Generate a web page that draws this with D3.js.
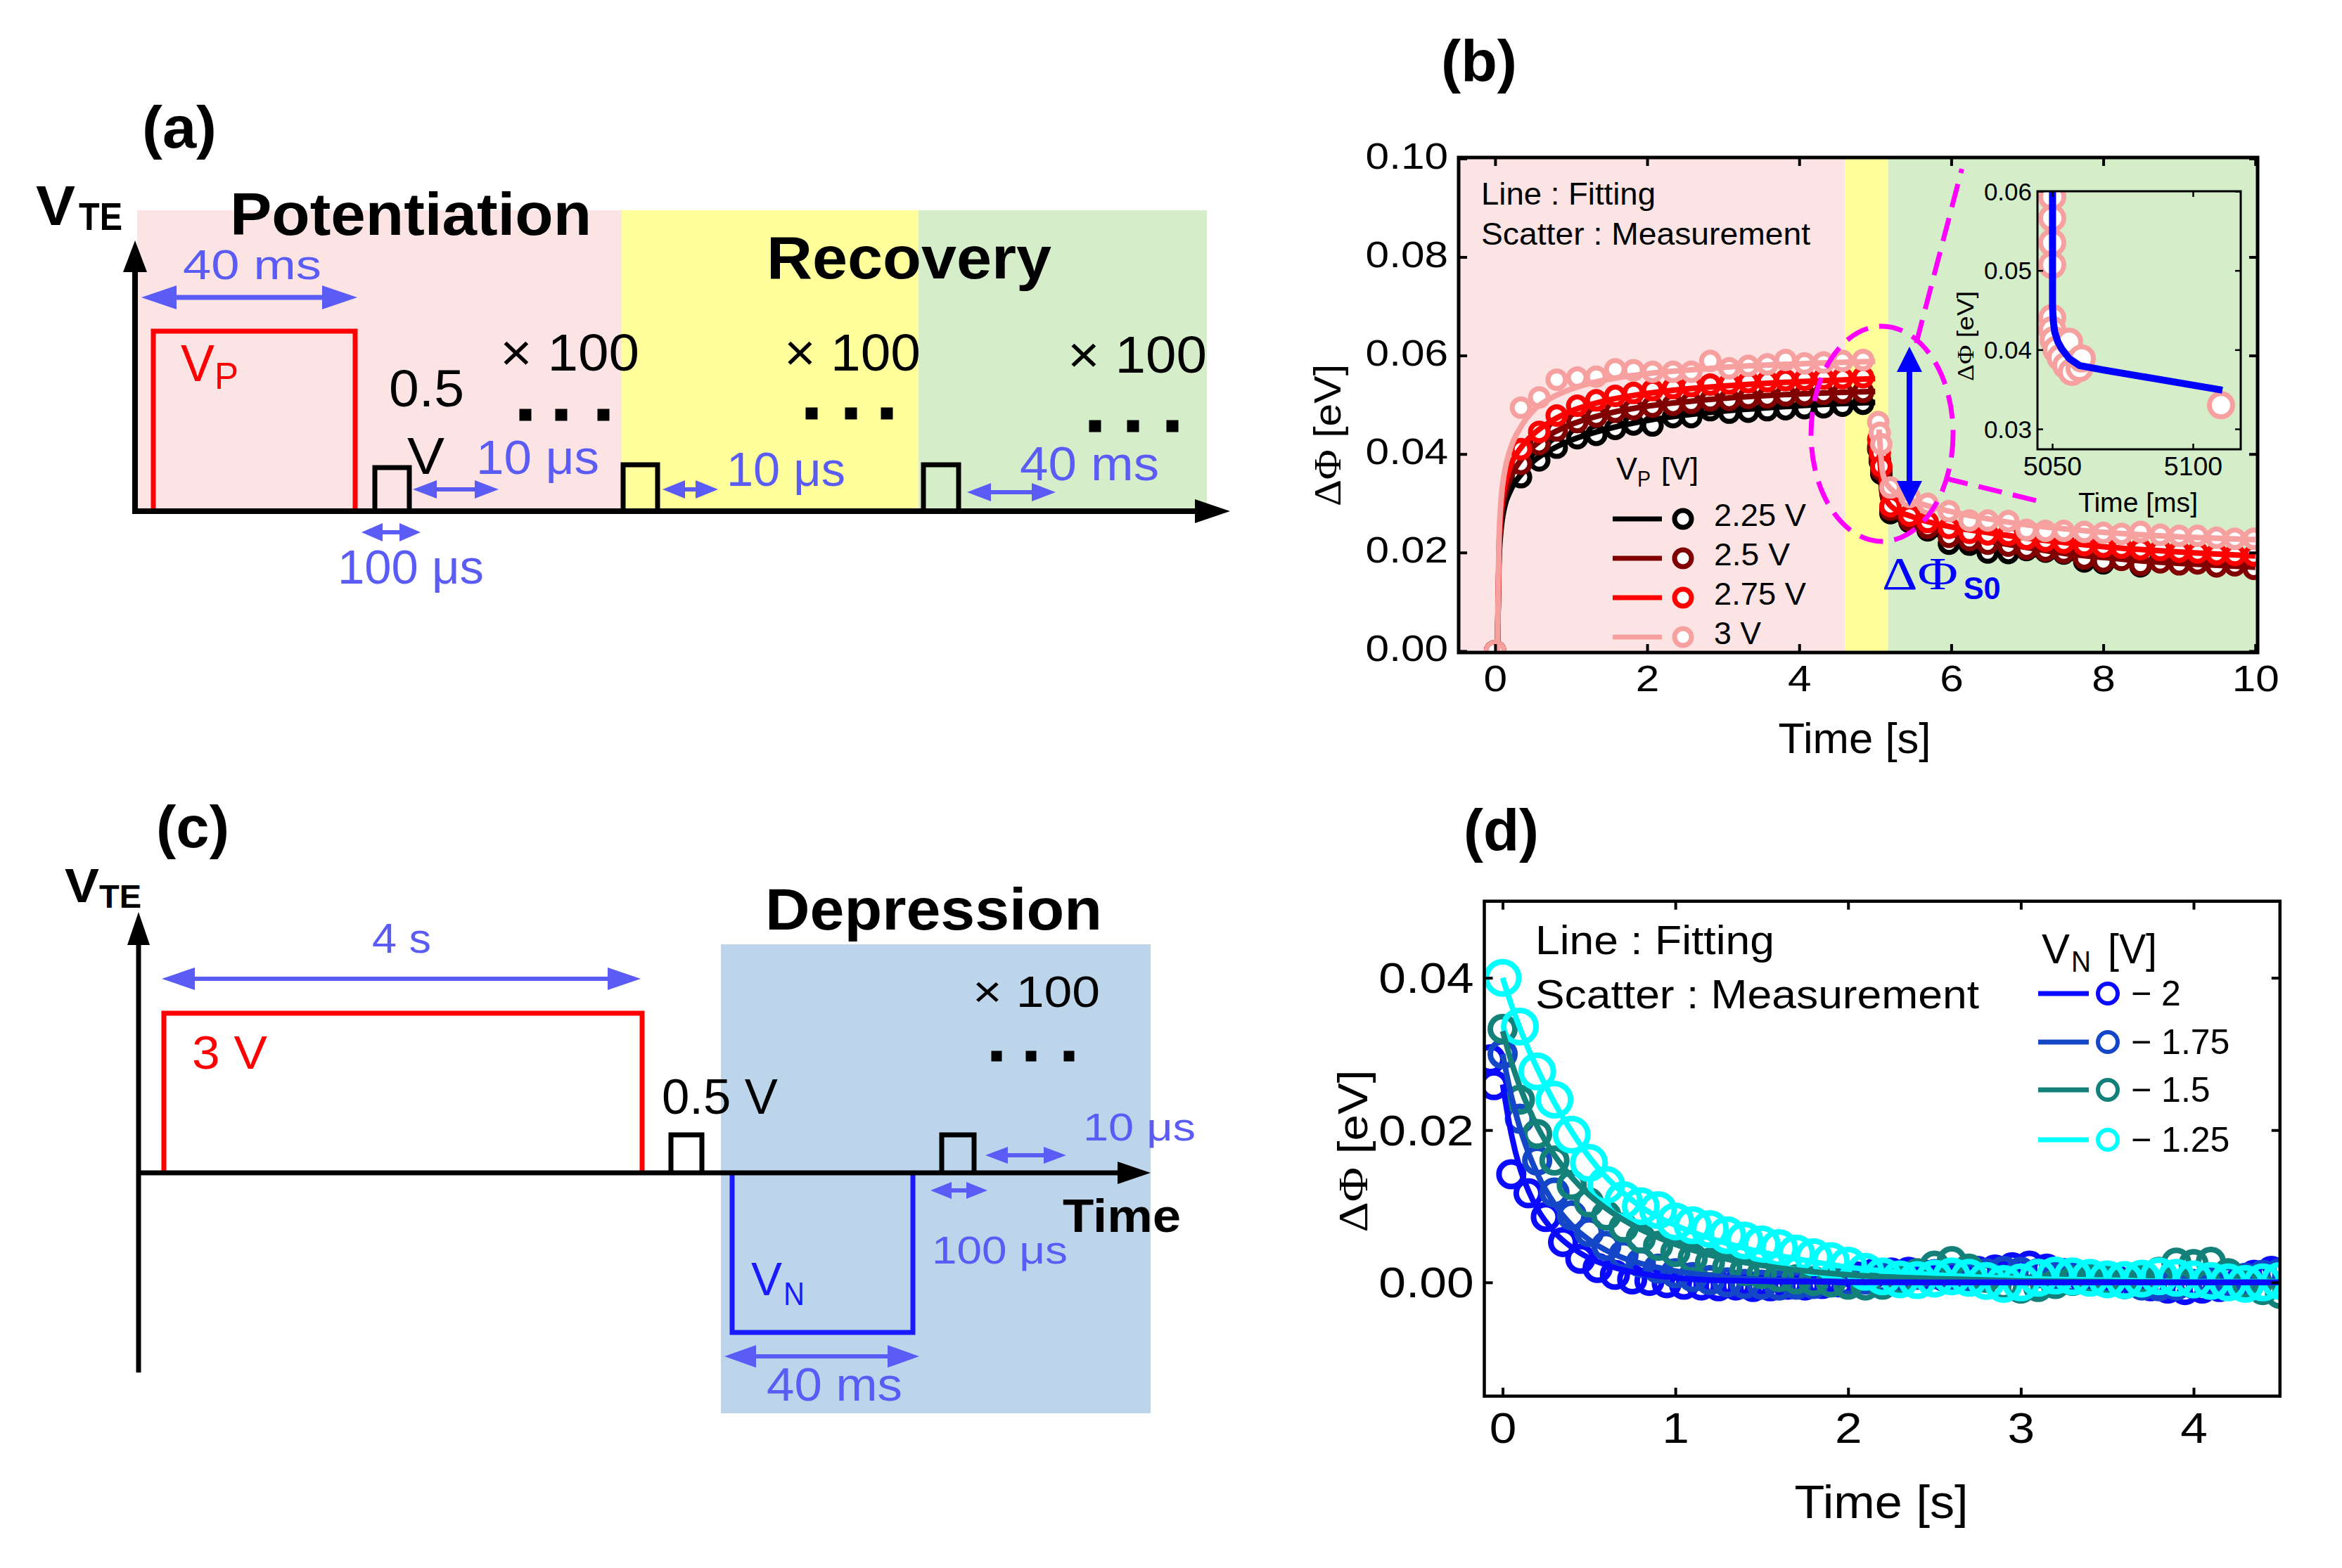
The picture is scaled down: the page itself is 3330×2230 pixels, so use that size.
<!DOCTYPE html>
<html><head><meta charset="utf-8">
<script src="https://cdn.jsdelivr.net/npm/d3@7"></script>
<style>html,body{margin:0;padding:0;background:#fff;} svg{display:block;}</style>
</head><body>
<svg id="fig" width="3330" height="2230"></svg>
<script>
// ================= DATA =================
// (a) schematic labels
const aPhaseLabels = ["Potentiation", "Recovery"];
const aRepeatLabel = "× 100";
const aIntervalLabels = ["10 μs", "10 μs", "40 ms"];
// (c) schematic labels
const cPhaseLabel = "Depression";
const cIntervalLabels = ["10 μs", "100 μs", "40 ms", "4 s"];

// (b) potentiation / recovery, V_P series
const bSeriesNames = ["2.25 V", "2.5 V", "2.75 V", "3 V"];
const bPhaseStart = [-0.48, 4.60, 5.17];
const bPhaseEnd = [4.60, 5.17, 10.03];
const bXTicks = [0, 2, 4, 6, 8, 10];
const bYTicks = [0, 0.02, 0.04, 0.06, 0.08, 0.10];
const bPotTime = [0, 0.34, 0.58, 0.81, 1.08, 1.33, 1.58, 1.82, 2.07, 2.34, 2.58, 2.83, 3.08, 3.33, 3.58, 3.82, 4.07, 4.32, 4.57, 4.84];
const bPot225 = [0, 0.0353, 0.0387, 0.0413, 0.0432, 0.0439, 0.0451, 0.0460, 0.0458, 0.0475, 0.0475, 0.0489, 0.0484, 0.0486, 0.0489, 0.0491, 0.0493, 0.0495, 0.0498, 0.0502];
const bPot250 = [0, 0.0380, 0.0420, 0.0448, 0.0465, 0.0476, 0.0486, 0.0491, 0.0496, 0.0500, 0.0504, 0.0509, 0.0510, 0.0514, 0.0515, 0.0519, 0.0520, 0.0522, 0.0524, 0.0526];
const bPot275 = [0, 0.0410, 0.0445, 0.0478, 0.0498, 0.0509, 0.0518, 0.0524, 0.0530, 0.0534, 0.0538, 0.0541, 0.0543, 0.0546, 0.0548, 0.0550, 0.0551, 0.0553, 0.0554, 0.0556];
const bPot300 = [0, 0.0494, 0.0515, 0.0551, 0.0555, 0.0557, 0.0572, 0.0570, 0.0567, 0.0567, 0.0567, 0.0589, 0.0574, 0.0579, 0.0582, 0.0591, 0.0584, 0.0586, 0.0589, 0.0591];
const bRecTime = [5.04, 5.06, 5.08, 5.20, 5.45, 5.69, 5.97, 6.24, 6.48, 6.75, 6.99, 7.24, 7.48, 7.75, 8.00, 8.24, 8.49, 8.75, 9.00, 9.24, 9.49, 9.73, 9.98];
const bRec225 = [0.0410, 0.0385, 0.0360, 0.0280, 0.0262, 0.0245, 0.0218, 0.0216, 0.0200, 0.0199, 0.0205, 0.0202, 0.0198, 0.0182, 0.0178, 0.0186, 0.0172, 0.0184, 0.0180, 0.0183, 0.0178, 0.0181, 0.0176];
const bRec250 = [0.0415, 0.0390, 0.0368, 0.0287, 0.0266, 0.0250, 0.0232, 0.0225, 0.0218, 0.0214, 0.0208, 0.0204, 0.0200, 0.0188, 0.0182, 0.0185, 0.0175, 0.0180, 0.0176, 0.0178, 0.0172, 0.0174, 0.0167];
const bRec275 = [0.0430, 0.0402, 0.0375, 0.0294, 0.0275, 0.0262, 0.0250, 0.0240, 0.0237, 0.0236, 0.0228, 0.0224, 0.0220, 0.0215, 0.0212, 0.0210, 0.0207, 0.0205, 0.0202, 0.0200, 0.0197, 0.0195, 0.0194];
const bRec300 = [0.0465, 0.0443, 0.0420, 0.0332, 0.0313, 0.0299, 0.0284, 0.0265, 0.0265, 0.0264, 0.0246, 0.0244, 0.0244, 0.0242, 0.0240, 0.0238, 0.0242, 0.0236, 0.0234, 0.0234, 0.0230, 0.0228, 0.0228];
const bFitPotT = [0.03, 0.05, 0.08, 0.12, 0.2, 0.35, 0.5, 0.75, 1.0, 1.5, 2.0, 2.5, 3.0, 3.5, 4.0, 4.5, 5.0];
const bFitPot225 = [0, 0.018, 0.025, 0.029, 0.0325, 0.036, 0.0385, 0.041, 0.0428, 0.0452, 0.0468, 0.0479, 0.0487, 0.0493, 0.0498, 0.0502, 0.0505];
const bFitPot250 = [0, 0.019, 0.027, 0.031, 0.035, 0.039, 0.0415, 0.0442, 0.046, 0.0483, 0.0497, 0.0506, 0.0513, 0.0518, 0.0522, 0.0525, 0.0527];
const bFitPot275 = [0, 0.020, 0.029, 0.033, 0.0375, 0.0415, 0.044, 0.0468, 0.0487, 0.051, 0.0523, 0.0532, 0.0538, 0.0543, 0.0547, 0.055, 0.0553];
const bFitPot300 = [0, 0.022, 0.031, 0.036, 0.041, 0.0458, 0.0488, 0.0515, 0.0532, 0.0552, 0.0563, 0.057, 0.0576, 0.058, 0.0583, 0.0586, 0.0588];
const bFitRecT = [5.05, 5.1, 5.2, 5.5, 6.0, 6.5, 7.0, 7.5, 8.0, 8.5, 9.0, 9.5, 10.0];
const bFitRec225 = [0.040, 0.031, 0.028, 0.0255, 0.0228, 0.021, 0.0198, 0.019, 0.0184, 0.018, 0.0178, 0.0177, 0.0176];
const bFitRec250 = [0.039, 0.031, 0.0282, 0.026, 0.0237, 0.0223, 0.021, 0.0198, 0.019, 0.0183, 0.0178, 0.0174, 0.017];
const bFitRec275 = [0.041, 0.033, 0.0295, 0.0272, 0.0252, 0.0240, 0.0229, 0.022, 0.0212, 0.0206, 0.0201, 0.0197, 0.0193];
const bFitRec300 = [0.045, 0.036, 0.033, 0.0305, 0.0283, 0.0268, 0.0256, 0.0248, 0.0241, 0.0236, 0.0232, 0.0229, 0.0226];
// (b) inset (3 V, ms scale)
const bInXTicks = [5050, 5100];
const bInYTicks = [0.03, 0.04, 0.05, 0.06];
const bInsetTime = [5050, 5050, 5050, 5050, 5050, 5050, 5050.5, 5051.5, 5053, 5055, 5056, 5057, 5059.7, 5060.5, 5110];
const bInsetVal = [0.0593, 0.0566, 0.0535, 0.0507, 0.0440, 0.0425, 0.0412, 0.0400, 0.0390, 0.0380, 0.0410, 0.0372, 0.0377, 0.0389, 0.0330];
const bInsetFitT = [5050.1, 5050.1, 5050.4, 5050.9, 5052, 5053.4, 5056, 5059.7, 5068.8, 5085.5, 5110.5];
const bInsetFitV = [0.0600, 0.0454, 0.0435, 0.0422, 0.0410, 0.0401, 0.0389, 0.0380, 0.0374, 0.0364, 0.0349];
// (b) annotation: ΔΦ_S0 arrow (time, top, bottom)
const bDropT = 5.45, bDropTop = 0.0618, bDropBottom = 0.0294;

// (d) depression, V_N series
const dSeriesNames = ["2", "1.75", "1.5", "1.25"];
const dXTicks = [0, 1, 2, 3, 4];
const dYTicks = [0, 0.02, 0.04];
const dTime = [0, 0.1, 0.2, 0.3, 0.4, 0.5, 0.6, 0.7, 0.8, 0.9, 1.0, 1.1, 1.2, 1.3, 1.4, 1.5, 1.6, 1.7, 1.8, 1.9, 2.0, 2.1, 2.2, 2.3, 2.4, 2.5, 2.6, 2.7, 2.8, 2.9, 3.0, 3.1, 3.2, 3.3, 3.4, 3.5, 3.6, 3.7, 3.8, 3.9, 4.0, 4.1, 4.2, 4.3, 4.4, 4.5];
const dBlueTime = [-0.07, -0.05, 0.05, 0.15, 0.25, 0.35, 0.45, 0.55, 0.65, 0.75, 0.85, 0.95, 1.05, 1.15, 1.25, 1.35, 1.45, 1.55, 1.65, 1.75, 1.85, 1.95, 2.05, 2.15, 2.25, 2.35, 2.45, 2.55, 2.65, 2.75, 2.85, 2.95, 3.05, 3.15, 3.25, 3.35, 3.45, 3.55, 3.65, 3.75, 3.85, 3.95, 4.05, 4.15, 4.25, 4.35, 4.45];
const dN200 = [0.0293, 0.0259, 0.0142, 0.0117, 0.0086, 0.0053, 0.0031, 0.0019, 0.0010, 0.0004, 0.0002, -0.0001, -0.0003, -0.0004, -0.0005, -0.0004, -0.0006, -0.0005, -0.0003, -0.0004, -0.0002, 0.0000, 0.0008, 0.0012, 0.0013, 0.0014, 0.0010, 0.0008, 0.0010, 0.0015, 0.0017, 0.0020, 0.0022, 0.0018, 0.0012, 0.0008, 0.0006, 0.0004, 0.0002, -0.0005, -0.0008, -0.0010, -0.0008, -0.0006, -0.0002, 0.0010, 0.0015];
const dN175 = [0.0300, 0.0215, 0.0160, 0.0118, 0.0088, 0.0066, 0.0048, 0.0036, 0.0026, 0.0018, 0.0012, 0.0007, 0.0003, 0.0000, -0.0002, -0.0003, -0.0004, -0.0003, -0.0002, 0.0000, 0.0002, 0.0004, 0.0006, 0.0008, 0.0010, 0.0011, 0.0010, 0.0008, 0.0012, 0.0015, 0.0014, 0.0012, 0.0008, 0.0005, 0.0002, 0.0000, -0.0002, -0.0004, -0.0005, -0.0004, -0.0002, 0.0000, 0.0003, 0.0006, 0.0010, 0.0012];
const dN150 = [0.0333, 0.0240, 0.0195, 0.0160, 0.0128, 0.0105, 0.0088, 0.0072, 0.0058, 0.0048, 0.0040, 0.0032, 0.0026, 0.0020, 0.0015, 0.0011, 0.0007, 0.0004, 0.0002, 0.0000, -0.0003, -0.0004, -0.0003, 0.0002, 0.0012, 0.0022, 0.0028, 0.0018, 0.0006, -0.0004, -0.0008, -0.0006, -0.0002, 0.0002, 0.0004, 0.0002, -0.0002, 0.0004, 0.0014, 0.0026, 0.0024, 0.0027, 0.0012, -0.0002, -0.0010, -0.0015];
const dN125 = [0.0400, 0.0336, 0.0277, 0.0240, 0.0194, 0.0157, 0.0128, 0.0108, 0.0100, 0.0095, 0.0080, 0.0075, 0.0070, 0.0062, 0.0055, 0.0050, 0.0045, 0.0038, 0.0033, 0.0028, 0.0022, 0.0014, 0.0008, 0.0004, 0.0003, 0.0005, 0.0008, 0.0006, 0.0002, -0.0002, 0.0000, 0.0006, 0.0009, 0.0008, 0.0006, 0.0004, 0.0003, 0.0005, 0.0008, 0.0006, 0.0004, 0.0002, 0.0000, -0.0002, 0.0000, 0.0002];
const dFitT = [0, 0.05, 0.1, 0.15, 0.2, 0.3, 0.4, 0.5, 0.6, 0.7, 0.85, 1.0, 1.2, 1.4, 1.6, 1.8, 2.0, 2.5, 3.0, 3.5, 4.0, 4.5];
const dFit200 = [0.026, 0.0195, 0.0150, 0.0120, 0.0097, 0.0066, 0.0046, 0.0032, 0.0023, 0.0016, 0.0010, 0.0006, 0.0003, 0.0002, 0.0001, 0.0001, 0, 0, 0, 0, 0, 0];
const dFit175 = [0.030, 0.0245, 0.0203, 0.0170, 0.0143, 0.0103, 0.0075, 0.0056, 0.0042, 0.0032, 0.0022, 0.0015, 0.0009, 0.0005, 0.0003, 0.0002, 0.0001, 0, 0, 0, 0, 0];
const dFit150 = [0.0330, 0.0290, 0.0257, 0.0229, 0.0205, 0.0167, 0.0138, 0.0115, 0.0097, 0.0082, 0.0064, 0.0050, 0.0036, 0.0026, 0.0019, 0.0014, 0.0010, 0.0005, 0.0002, 0.0001, 0, 0];
const dFit125 = [0.0400, 0.0365, 0.0334, 0.0306, 0.0281, 0.0236, 0.0198, 0.0165, 0.0138, 0.0117, 0.0092, 0.0075, 0.0058, 0.0045, 0.0035, 0.0027, 0.0020, 0.0010, 0.0005, 0.0003, 0.0001, 0.0001];

// ================= STYLE =================
const SANS = "'Liberation Sans', Arial, sans-serif";
const SERIF = "'Liberation Serif', 'Times New Roman', serif";
const ANNO = "#5b5bf5";
const PINK_BG = "#fde4e4", YEL_BG = "#ffff9c", GRN_BG = "#d5eec9", BLUE_BG = "#bdd5eb";
const bColors = ["#000000", "#800000", "#ff0000", "#f7a0a0"];
const dColors = ["#0a0aff", "#1446c8", "#138079", "#00ffff"];

const svg = d3.select('#fig');
svg.append('rect').attr('width', 3330).attr('height', 2230).attr('fill', '#fff');
const defs = svg.append('defs');

function txt(g, x, y, s, fs, o = {}) {
  const t = g.append('text').attr('x', x).attr('y', y)
    .attr('font-family', o.ff || SANS).attr('font-size', fs)
    .attr('font-weight', o.fw || 'normal').attr('fill', o.fill || '#000')
    .attr('text-anchor', o.anchor || 'start').text(s);
  if (o.tl) t.attr('textLength', o.tl).attr('lengthAdjust', 'spacingAndGlyphs');
  return t;
}
function stretch(sel, f) {
  sel.each(function () {
    const w = this.getComputedTextLength();
    d3.select(this).attr('textLength', w * f).attr('lengthAdjust', 'spacingAndGlyphs');
  });
}
function hArrow(g, x1, x2, y, color, lw, hl, hw) {
  g.append('line').attr('x1', x1 + hl * 0.8).attr('x2', x2 - hl * 0.8).attr('y1', y).attr('y2', y)
    .attr('stroke', color).attr('stroke-width', lw);
  g.append('path').attr('d', `M${x1},${y}L${x1 + hl},${y - hw}L${x1 + hl},${y + hw}Z`).attr('fill', color);
  g.append('path').attr('d', `M${x2},${y}L${x2 - hl},${y - hw}L${x2 - hl},${y + hw}Z`).attr('fill', color);
}
function vArrow(g, x, y1, y2, color, lw, hl, hw) {
  g.append('line').attr('x1', x).attr('x2', x).attr('y1', y1 + hl * 0.8).attr('y2', y2 - hl * 0.8)
    .attr('stroke', color).attr('stroke-width', lw);
  g.append('path').attr('d', `M${x},${y1}L${x - hw},${y1 + hl}L${x + hw},${y1 + hl}Z`).attr('fill', color);
  g.append('path').attr('d', `M${x},${y2}L${x - hw},${y2 - hl}L${x + hw},${y2 - hl}Z`).attr('fill', color);
}
function pulse(g, xs, ys, x1, x2, h, color, lw) {
  g.append('path').attr('d', `M${xs(x1)},${ys(0)}V${ys(h)}H${xs(x2)}V${ys(0)}`)
    .attr('fill', 'none').attr('stroke', color).attr('stroke-width', lw).attr('stroke-linejoin', 'miter');
}

// ================= PANEL (a) =================
{
  const g = svg.append('g');
  const xa = d3.scaleLinear().domain([0, 1]).range([192, 193]);
  const ya = d3.scaleLinear().domain([0, 1]).range([727, 726]);
  const bgS = [3, 692, 1114], bgE = [692, 1114, 1524], bgC = [PINK_BG, YEL_BG, GRN_BG];
  bgS.forEach((s, i) => g.append('rect').attr('x', xa(s)).attr('y', ya(428)).attr('width', xa(bgE[i]) - xa(s))
    .attr('height', ya(0) - ya(428)).attr('fill', bgC[i]));
  pulse(g, xa, ya, 26, 313, 256, '#ff0000', 7);
  [[341, 390, 62], [694, 743, 66], [1121, 1171, 66]].forEach(p => pulse(g, xa, ya, p[0], p[1], p[2], '#000', 7));
  g.append('line').attr('x1', xa(0)).attr('x2', xa(0)).attr('y1', ya(-4)).attr('y2', ya(350)).attr('stroke', '#000').attr('stroke-width', 8);
  g.append('path').attr('d', `M${xa(0)},${ya(385)}L${xa(-17)},${ya(340)}L${xa(17)},${ya(340)}Z`).attr('fill', '#000');
  g.append('line').attr('x1', xa(-4)).attr('x2', xa(1515)).attr('y1', ya(0)).attr('y2', ya(0)).attr('stroke', '#000').attr('stroke-width', 8);
  g.append('path').attr('d', `M${xa(1557)},${ya(0)}L${xa(1507)},${ya(17)}L${xa(1507)},${ya(-17)}Z`).attr('fill', '#000');
  hArrow(g, xa(9), xa(316), ya(304), ANNO, 7, 50, 17);
  hArrow(g, xa(395), xa(517), ya(31), ANNO, 6, 34, 13);
  hArrow(g, xa(322), xa(406), ya(-30), ANNO, 6, 30, 13);
  hArrow(g, xa(750), xa(829), ya(31), ANNO, 6, 32, 13);
  hArrow(g, xa(1183), xa(1309), ya(27), ANNO, 6, 34, 13);
  [[555, 137], [606, 137], [666, 137], [962, 139], [1018, 139], [1069, 139], [1365, 121], [1419, 121], [1475, 121]]
    .forEach(d => g.append('rect').attr('x', xa(d[0]) - 8.5).attr('y', ya(d[1]) - 8.5).attr('width', 17).attr('height', 17).attr('fill', '#000'));
  txt(g, xa(10), ya(517), "(a)", 84, { fw: 'bold', tl: 106 });
  txt(g, xa(-141), ya(407), "V", 80, { fw: 'bold', tl: 56 });
  txt(g, xa(-80), ya(400), "TE", 56, { fw: 'bold', tl: 62 });
  txt(g, xa(135), ya(393), aPhaseLabels[0], 85, { fw: 'bold', tl: 514 });
  txt(g, xa(898), ya(331), aPhaseLabels[1], 85, { fw: 'bold', tl: 405 });
  txt(g, xa(68), ya(330), "40 ms", 60, { fill: ANNO, tl: 197 });
  txt(g, xa(65), ya(185), "V", 75, { fill: '#ff0000', tl: 48 });
  txt(g, xa(113), ya(174), "P", 53, { fill: '#ff0000', tl: 34 });
  txt(g, xa(361), ya(149), "0.5", 74, { tl: 107 });
  txt(g, xa(387), ya(53), "V", 74, { tl: 53 });
  txt(g, xa(519), ya(200), aRepeatLabel, 74, { tl: 198 });
  txt(g, xa(923), ya(200), aRepeatLabel, 74, { tl: 194 });
  txt(g, xa(1326), ya(197), aRepeatLabel, 74, { tl: 198 });
  txt(g, xa(485), ya(53), aIntervalLabels[0], 68, { fill: ANNO, tl: 175 });
  txt(g, xa(841), ya(36), aIntervalLabels[1], 68, { fill: ANNO, tl: 169 });
  txt(g, xa(1258), ya(44), aIntervalLabels[2], 68, { fill: ANNO, tl: 198 });
  txt(g, xa(288), ya(-103), "100 μs", 68, { fill: ANNO, tl: 208 });
}

// ================= PANEL (c) =================
{
  const g = svg.append('g');
  const xc = d3.scaleLinear().domain([0, 1]).range([197, 198]);
  const yc = d3.scaleLinear().domain([0, 1]).range([1668, 1667]);
  g.append('rect').attr('x', xc(828)).attr('y', yc(325)).attr('width', xc(1439) - xc(828))
    .attr('height', yc(-342) - yc(325)).attr('fill', BLUE_BG);
  pulse(g, xc, yc, 36, 716, 227, '#ff0000', 7);
  pulse(g, xc, yc, 757, 801, 54, '#000', 7);
  pulse(g, xc, yc, 1142, 1188, 54, '#000', 7);
  pulse(g, xc, yc, 844, 1101, -227, '#1a1aff', 7);
  g.append('line').attr('x1', xc(0)).attr('x2', xc(0)).attr('y1', yc(-284)).attr('y2', yc(340)).attr('stroke', '#000').attr('stroke-width', 7);
  g.append('path').attr('d', `M${xc(0)},${yc(371)}L${xc(-16)},${yc(324)}L${xc(16)},${yc(324)}Z`).attr('fill', '#000');
  g.append('line').attr('x1', xc(0)).attr('x2', xc(1400)).attr('y1', yc(0)).attr('y2', yc(0)).attr('stroke', '#000').attr('stroke-width', 7);
  g.append('path').attr('d', `M${xc(1439)},${yc(0)}L${xc(1392)},${yc(16)}L${xc(1392)},${yc(-16)}Z`).attr('fill', '#000');
  hArrow(g, xc(33), xc(714), yc(276), ANNO, 6, 47, 16);
  hArrow(g, xc(833), xc(1110), yc(-261), ANNO, 6, 45, 16);
  hArrow(g, xc(1204), xc(1319), yc(25), ANNO, 6, 32, 12);
  hArrow(g, xc(1126), xc(1207), yc(-25), ANNO, 6, 30, 12);
  [[1220, 166], [1269, 166], [1323, 166]].forEach(d => g.append('rect').attr('x', xc(d[0]) - 7.5).attr('y', yc(d[1]) - 7.5)
    .attr('width', 15).attr('height', 15).attr('fill', '#000'));
  txt(g, xc(25), yc(463), "(c)", 84, { fw: 'bold', tl: 104 });
  txt(g, xc(-105), yc(385), "V", 68, { fw: 'bold', tl: 49 });
  txt(g, xc(-56), yc(377), "TE", 46, { fw: 'bold', tl: 60 });
  txt(g, xc(891), yc(346), cPhaseLabel, 83, { fw: 'bold', tl: 479 });
  txt(g, xc(332), yc(313), cIntervalLabels[3], 60, { fill: ANNO, tl: 84 });
  txt(g, xc(76), yc(148), "3 V", 67, { fill: '#ff0000', tl: 107 });
  txt(g, xc(744), yc(84), "0.5 V", 70, { tl: 165 });
  txt(g, xc(871), yc(-174), "V", 67, { fill: '#1a1aff', tl: 44 });
  txt(g, xc(917), yc(-188), "N", 47, { fill: '#1a1aff', tl: 30 });
  txt(g, xc(893), yc(-324), cIntervalLabels[2], 67, { fill: ANNO, tl: 193 });
  txt(g, xc(1186), yc(236), "× 100", 63, { tl: 181 });
  txt(g, xc(1343), yc(46), cIntervalLabels[0], 56, { fill: ANNO, tl: 160 });
  txt(g, xc(1128), yc(-129), cIntervalLabels[1], 56, { fill: ANNO, tl: 193 });
  txt(g, xc(1314), yc(-84), "Time", 67, { fw: 'bold', tl: 168 });
}

// ================= PANEL (b) =================
{
  const g = svg.append('g');
  const L = 2074, R = 3210, Tp = 224, B = 928;
  const xB = d3.scaleLinear().domain([-0.48, 10.03]).range([L, R]);
  const yB = d3.scaleLinear().domain([-0.0003, 0.1002]).range([B, Tp]);
  defs.append('clipPath').attr('id', 'clipB').append('rect').attr('x', L).attr('y', Tp).attr('width', R - L).attr('height', B - Tp);
  const bgC = [PINK_BG, YEL_BG, GRN_BG];
  bPhaseStart.forEach((s, i) => g.append('rect').attr('x', xB(s)).attr('y', Tp).attr('width', xB(bPhaseEnd[i]) - xB(s))
    .attr('height', B - Tp).attr('fill', bgC[i]));

  const pot = [bPot225, bPot250, bPot275, bPot300];
  const rec = [bRec225, bRec250, bRec275, bRec300];
  const fpot = [bFitPot225, bFitPot250, bFitPot275, bFitPot300];
  const frec = [bFitRec225, bFitRec250, bFitRec275, bFitRec300];
  const line = d3.line().x(d => xB(d[0])).y(d => yB(d[1])).curve(d3.curveMonotoneX);
  const plot = g.append('g').attr('clip-path', 'url(#clipB)');
  for (let i = 0; i < 4; i++) {
    const pts = bPotTime.map((t, j) => [t, pot[i][j]]).concat(bRecTime.map((t, j) => [t, rec[i][j]]));
    plot.append('g').selectAll('circle').data(pts).join('circle')
      .attr('cx', d => xB(d[0])).attr('cy', d => yB(d[1])).attr('r', 12.5)
      .attr('fill', '#fff').attr('stroke', bColors[i]).attr('stroke-width', 7);
    plot.append('path').attr('d', line(bFitPotT.map((t, j) => [t, fpot[i][j]]))).attr('fill', 'none')
      .attr('stroke', bColors[i]).attr('stroke-width', 8);
    plot.append('path').attr('d', line(bFitRecT.map((t, j) => [t, frec[i][j]]))).attr('fill', 'none')
      .attr('stroke', bColors[i]).attr('stroke-width', 8);
  }
  g.append('rect').attr('x', L).attr('y', Tp).attr('width', R - L).attr('height', B - Tp).attr('fill', 'none').attr('stroke', '#000').attr('stroke-width', 5);
  const styleAx = (sel, fs) => {
    sel.select('.domain').remove();
    sel.selectAll('line').attr('stroke', '#000').attr('stroke-width', 4);
    sel.selectAll('text').attr('font-size', fs).attr('font-family', SANS).attr('fill', '#000');
  };
  const gx = g.append('g').attr('transform', `translate(0,${B})`)
    .call(d3.axisBottom(xB).tickValues(bXTicks).tickSize(-12).tickFormat(d3.format('d')));
  styleAx(gx, 52); gx.selectAll('text').attr('dy', null).attr('y', 55); stretch(gx.selectAll('text'), 1.16);
  const gy = g.append('g').attr('transform', `translate(${L},0)`)
    .call(d3.axisLeft(yB).tickValues(bYTicks).tickSize(-12).tickFormat(d3.format('.2f')));
  styleAx(gy, 52); gy.selectAll('text').attr('dy', null).attr('x', -15).attr('y', 14); stretch(gy.selectAll('text'), 1.16);
  const gt = g.append('g').attr('transform', `translate(0,${Tp})`).call(d3.axisTop(xB).tickValues(bXTicks).tickSize(-12).tickFormat(''));
  styleAx(gt, 10);
  const gr = g.append('g').attr('transform', `translate(${R},0)`).call(d3.axisRight(yB).tickValues(bYTicks).tickSize(-12).tickFormat(''));
  styleAx(gr, 10);

  txt(g, 2049, 116, "(b)", 84, { fw: 'bold', tl: 108 });
  txt(g, 2637, 1071, "Time [s]", 61, { anchor: 'middle', tl: 217 });
  const yl = g.append('text').attr('transform', 'translate(1906,619) rotate(-90)').attr('text-anchor', 'middle')
    .attr('font-size', 54).attr('font-family', SANS).attr('textLength', 202).attr('lengthAdjust', 'spacingAndGlyphs');
  yl.append('tspan').attr('font-family', SERIF).text('ΔΦ');
  yl.append('tspan').text(' [eV]');
  txt(g, 2106, 291, "Line : Fitting", 45, { tl: 248 });
  txt(g, 2106, 348, "Scatter : Measurement", 45, { tl: 468 });

  txt(g, 2298, 682, "V", 45, { tl: 30 });
  txt(g, 2328, 692, "P", 32, { tl: 19 });
  txt(g, 2362, 682, "[V]", 45, { tl: 53 });
  const legY = [738, 794, 850, 906], legW = [131, 108, 131, 67];
  bSeriesNames.forEach((n, i) => {
    g.append('line').attr('x1', 2293).attr('x2', 2363).attr('y1', legY[i]).attr('y2', legY[i]).attr('stroke', bColors[i]).attr('stroke-width', 7);
    g.append('circle').attr('cx', 2393).attr('cy', legY[i]).attr('r', 12).attr('fill', '#fff').attr('stroke', bColors[i]).attr('stroke-width', 7);
    txt(g, 2437, legY[i] + 10, n, 44, { tl: legW[i] });
  });

  const mag = '#ff00ff';
  g.append('ellipse').attr('cx', xB(5.09)).attr('cy', yB(0.0441)).attr('rx', 101).attr('ry', 153)
    .attr('fill', 'none').attr('stroke', mag).attr('stroke-width', 7).attr('stroke-dasharray', '34,16');
  g.append('line').attr('x1', xB(5.54)).attr('y1', yB(0.0625)).attr('x2', xB(6.14)).attr('y2', yB(0.0979))
    .attr('stroke', mag).attr('stroke-width', 7).attr('stroke-dasharray', '34,16');
  g.append('line').attr('x1', xB(5.91)).attr('y1', yB(0.0351)).attr('x2', xB(7.13)).attr('y2', yB(0.0305))
    .attr('stroke', mag).attr('stroke-width', 7).attr('stroke-dasharray', '34,16');
  vArrow(g, xB(bDropT), yB(bDropTop), yB(bDropBottom), '#0000ff', 8, 36, 18);
  txt(g, xB(5.09), yB(0.01255), "ΔΦ", 66, { ff: SERIF, fill: '#0000ff', tl: 108 });
  txt(g, xB(6.16), yB(0.01056), "S0", 44, { fw: 'bold', fill: '#0000ff', tl: 53 });

  const iL = 2897, iR = 3186, iT = 272, iB = 639;
  const xI = d3.scaleLinear().domain([5044.75, 5117]).range([iL, iR]);
  const yI = d3.scaleLinear().domain([0.02743, 0.06]).range([iB, iT]);
  defs.append('clipPath').attr('id', 'clipI').append('rect').attr('x', iL).attr('y', iT).attr('width', iR - iL).attr('height', iB - iT);
  const ig = g.append('g').attr('clip-path', 'url(#clipI)');
  ig.selectAll('circle').data(bInsetTime.map((t, j) => [t, bInsetVal[j]])).join('circle')
    .attr('cx', d => xI(d[0])).attr('cy', d => yI(d[1])).attr('r', 16.5)
    .attr('fill', '#fff').attr('stroke', bColors[3]).attr('stroke-width', 7);
  ig.append('path').attr('d', d3.line().x(d => xI(d[0])).y(d => yI(d[1])).curve(d3.curveLinear)(bInsetFitT.map((t, j) => [t, bInsetFitV[j]])))
    .attr('fill', 'none').attr('stroke', '#0000ff').attr('stroke-width', 10).attr('stroke-linejoin', 'round');
  g.append('rect').attr('x', iL).attr('y', iT).attr('width', iR - iL).attr('height', iB - iT).attr('fill', 'none').attr('stroke', '#000').attr('stroke-width', 3);
  const ix = g.append('g').attr('transform', `translate(0,${iB})`).call(d3.axisBottom(xI).tickValues(bInXTicks).tickSize(-8).tickFormat(d3.format('d')));
  styleAx(ix, 36); ix.selectAll('line').attr('stroke-width', 2.5); ix.selectAll('text').attr('dy', null).attr('y', 37); stretch(ix.selectAll('text'), 1.04);
  const iy = g.append('g').attr('transform', `translate(${iL},0)`).call(d3.axisLeft(yI).tickValues(bInYTicks).tickSize(-8).tickFormat(d3.format('.2f')));
  styleAx(iy, 35); iy.selectAll('line').attr('stroke-width', 2.5); iy.selectAll('text').attr('dy', null).attr('x', -8).attr('y', 12);
  const it = g.append('g').attr('transform', `translate(0,${iT})`).call(d3.axisTop(xI).tickValues(bInXTicks).tickSize(-8).tickFormat(''));
  styleAx(it, 10); it.selectAll('line').attr('stroke-width', 2.5);
  const ir = g.append('g').attr('transform', `translate(${iR},0)`).call(d3.axisRight(yI).tickValues(bInYTicks).tickSize(-8).tickFormat(''));
  styleAx(ir, 10); ir.selectAll('line').attr('stroke-width', 2.5);
  txt(g, 3040, 728, "Time [ms]", 38, { anchor: 'middle', tl: 170 });
  const iyl = g.append('text').attr('transform', 'translate(2806,478) rotate(-90)').attr('text-anchor', 'middle')
    .attr('font-size', 33).attr('font-family', SANS).attr('textLength', 128).attr('lengthAdjust', 'spacingAndGlyphs');
  iyl.append('tspan').attr('font-family', SERIF).text('ΔΦ');
  iyl.append('tspan').text(' [eV]');
}

// ================= PANEL (d) =================
{
  const g = svg.append('g');
  const L = 2110.5, R = 3241.8, Tp = 1281.7, B = 1985.6;
  const xD = d3.scaleLinear().domain([-0.106, 4.5]).range([L, R]);
  const yD = d3.scaleLinear().domain([-0.01494, 0.05006]).range([B, Tp]);
  defs.append('clipPath').attr('id', 'clipD').append('rect').attr('x', L).attr('y', Tp).attr('width', R - L).attr('height', B - Tp);
  const plot = g.append('g').attr('clip-path', 'url(#clipD)');
  const sets = [
    { t: dBlueTime, v: dN200, r: 17.5 },
    { t: dTime, v: dN175, r: 17.5 },
    { t: dTime, v: dN150, r: 17.5 },
    { t: dTime, v: dN125, r: 23 }
  ];
  sets.forEach((s, i) => {
    plot.append('g').selectAll('circle').data(s.t.map((t, j) => [t, s.v[j]])).join('circle')
      .attr('cx', d => xD(d[0])).attr('cy', d => yD(d[1])).attr('r', s.r)
      .attr('fill', 'none').attr('stroke', dColors[i]).attr('stroke-width', 8);
  });
  const fits = [dFit200, dFit175, dFit150, dFit125];
  const line = d3.line().x(d => xD(d[0])).y(d => yD(d[1])).curve(d3.curveMonotoneX);
  [3, 2, 1, 0].forEach(i => {
    plot.append('path').attr('d', line(dFitT.map((t, j) => [t, fits[i][j]]))).attr('fill', 'none')
      .attr('stroke', dColors[i]).attr('stroke-width', 8);
  });
  g.append('rect').attr('x', L).attr('y', Tp).attr('width', R - L).attr('height', B - Tp).attr('fill', 'none').attr('stroke', '#000').attr('stroke-width', 4.5);
  const styleAx = (sel, fs) => {
    sel.select('.domain').remove();
    sel.selectAll('line').attr('stroke', '#000').attr('stroke-width', 4);
    sel.selectAll('text').attr('font-size', fs).attr('font-family', SANS).attr('fill', '#000');
  };
  const gx = g.append('g').attr('transform', `translate(0,${B})`).call(d3.axisBottom(xD).tickValues(dXTicks).tickSize(-12).tickFormat(d3.format('d')));
  styleAx(gx, 62); gx.selectAll('text').attr('dy', null).attr('y', 66); stretch(gx.selectAll('text'), 1.12);
  const gy = g.append('g').attr('transform', `translate(${L},0)`).call(d3.axisLeft(yD).tickValues(dYTicks).tickSize(-12).tickFormat(d3.format('.2f')));
  styleAx(gy, 62); gy.selectAll('text').attr('dy', null).attr('x', -15).attr('y', 21); stretch(gy.selectAll('text'), 1.12);
  const gt = g.append('g').attr('transform', `translate(0,${Tp})`).call(d3.axisTop(xD).tickValues(dXTicks).tickSize(-12).tickFormat(''));
  styleAx(gt, 10);
  const gr = g.append('g').attr('transform', `translate(${R},0)`).call(d3.axisRight(yD).tickValues(dYTicks).tickSize(-12).tickFormat(''));
  styleAx(gr, 10);

  txt(g, 2081, 1210, "(d)", 84, { fw: 'bold', tl: 107 });
  txt(g, 2675, 2159, "Time [s]", 66, { anchor: 'middle', tl: 247 });
  const yl = g.append('text').attr('transform', 'translate(1944,1637) rotate(-90)').attr('text-anchor', 'middle')
    .attr('font-size', 60).attr('font-family', SANS).attr('textLength', 231).attr('lengthAdjust', 'spacingAndGlyphs');
  yl.append('tspan').attr('font-family', SERIF).text('ΔΦ');
  yl.append('tspan').text(' [eV]');
  txt(g, 2183, 1357, "Line : Fitting", 57, { tl: 340 });
  txt(g, 2183, 1434, "Scatter : Measurement", 57, { tl: 631 });
  txt(g, 2903, 1370, "V", 60, { tl: 40 });
  txt(g, 2945, 1382, "N", 42, { tl: 28 });
  txt(g, 2997, 1370, "[V]", 60, { tl: 70 });
  const legY = [1413, 1482, 1550, 1621];
  dSeriesNames.forEach((n, i) => {
    g.append('line').attr('x1', 2898).attr('x2', 2970).attr('y1', legY[i]).attr('y2', legY[i]).attr('stroke', dColors[i]).attr('stroke-width', 7);
    g.append('circle').attr('cx', 2997).attr('cy', legY[i]).attr('r', 14).attr('fill', 'none').attr('stroke', dColors[i]).attr('stroke-width', 6);
    txt(g, 3030, legY[i] + 17, "− " + n, 50);
  });
}
</script>
</body></html>
